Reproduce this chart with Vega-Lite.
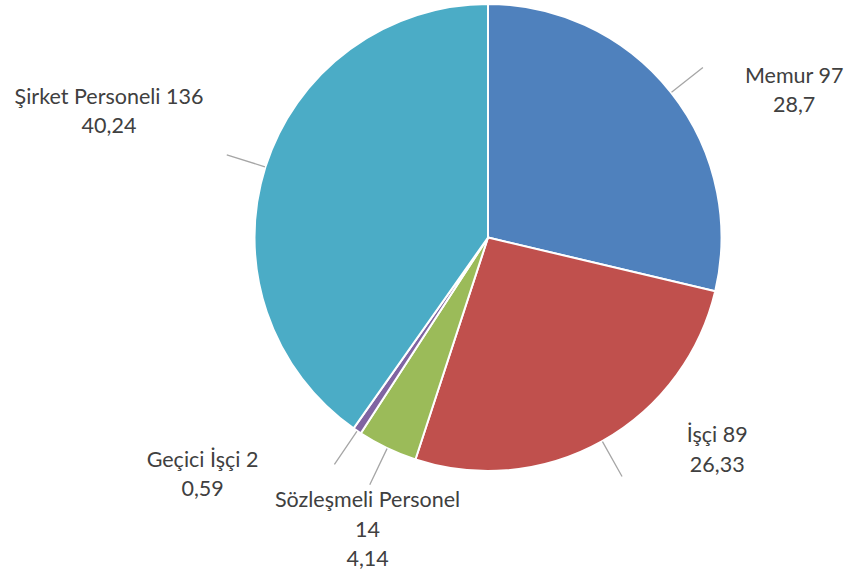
{
  "$schema": "https://vega.github.io/schema/vega-lite/v6.json",
  "width": 726,
  "height": 467,
  "autosize": {"type": "none"},
  "padding": {"left": 125, "top": 4, "right": 0, "bottom": 107},
  "background": "white",
  "config": {"view": {"stroke": null}},
  "data": {
    "values": [
      {"sira": 1, "kategori": "Memur", "sayi": 97, "yuzde": 28.7},
      {"sira": 2, "kategori": "İşçi", "sayi": 89, "yuzde": 26.33},
      {"sira": 3, "kategori": "Sözleşmeli Personel", "sayi": 14, "yuzde": 4.14},
      {"sira": 4, "kategori": "Geçici İşçi", "sayi": 2, "yuzde": 0.59},
      {"sira": 5, "kategori": "Şirket Personeli", "sayi": 136, "yuzde": 40.24}
    ]
  },
  "transform": [
    {"calculate": "replace(toString(datum.yuzde), '.', ',')", "as": "yuzdeMetin"}
  ],
  "encoding": {
    "theta": {"field": "sayi", "type": "quantitative", "stack": true},
    "order": {"field": "sira", "type": "quantitative", "sort": "ascending"},
    "detail": {"field": "kategori", "type": "nominal"}
  },
  "layer": [
    {
      "mark": {"type": "arc", "stroke": "white", "strokeWidth": 2},
      "encoding": {
        "color": {
          "field": "kategori",
          "type": "nominal",
          "scale": {
            "domain": ["Memur", "İşçi", "Sözleşmeli Personel", "Geçici İşçi", "Şirket Personeli"],
            "range": ["#4F81BD", "#C0504D", "#9BBB59", "#8064A2", "#4BACC6"]
          },
          "legend": null
        }
      }
    },
    {
      "mark": {"type": "arc", "padAngle": 3.1416, "fill": "transparent", "stroke": "#A6A6A6", "strokeWidth": 1.3},
      "encoding": {
        "radius": {"value": 274},
        "radius2": {"value": 234}
      }
    },
    {
      "transform": [{"calculate": "datum.kategori === 'Memur' ? [datum.kategori + ' ' + datum.sayi, datum.yuzdeMetin] : ''", "as": "etiket"}],
      "mark": {"type": "text", "align": "center", "baseline": "middle", "dx": 123, "dy": -16, "font": "Lato", "fontSize": 21.5, "lineHeight": 29.5, "color": "#404040"},
      "encoding": {"radius": {"value": 233.5}, "text": {"field": "etiket", "type": "nominal"}}
    },
    {
      "transform": [{"calculate": "datum.kategori === 'İşçi' ? [datum.kategori + ' ' + datum.sayi, datum.yuzdeMetin] : ''", "as": "etiket"}],
      "mark": {"type": "text", "align": "center", "baseline": "middle", "dx": 115, "dy": -5, "font": "Lato", "fontSize": 21.5, "lineHeight": 29.5, "color": "#404040"},
      "encoding": {"radius": {"value": 233.5}, "text": {"field": "etiket", "type": "nominal"}}
    },
    {
      "transform": [{"calculate": "datum.kategori === 'Sözleşmeli Personel' ? [datum.kategori, '' + datum.sayi, datum.yuzdeMetin] : ''", "as": "etiket"}],
      "mark": {"type": "text", "align": "center", "baseline": "middle", "dx": -19.7, "dy": 53, "font": "Lato", "fontSize": 21.5, "lineHeight": 29.5, "color": "#404040"},
      "encoding": {"radius": {"value": 233.5}, "text": {"field": "etiket", "type": "nominal"}}
    },
    {
      "transform": [{"calculate": "datum.kategori === 'Geçici İşçi' ? [datum.kategori + ' ' + datum.sayi, datum.yuzdeMetin] : ''", "as": "etiket"}],
      "mark": {"type": "text", "align": "center", "baseline": "middle", "dx": -154.6, "dy": 30, "font": "Lato", "fontSize": 21.5, "lineHeight": 29.5, "color": "#404040"},
      "encoding": {"radius": {"value": 233.5}, "text": {"field": "etiket", "type": "nominal"}}
    },
    {
      "transform": [{"calculate": "datum.kategori === 'Şirket Personeli' ? [datum.kategori + ' ' + datum.sayi, datum.yuzdeMetin] : ''", "as": "etiket"}],
      "mark": {"type": "text", "align": "center", "baseline": "middle", "dx": -156.4, "dy": -69, "font": "Lato", "fontSize": 21.5, "lineHeight": 29.5, "color": "#404040"},
      "encoding": {"radius": {"value": 233.5}, "text": {"field": "etiket", "type": "nominal"}}
    }
  ]
}
